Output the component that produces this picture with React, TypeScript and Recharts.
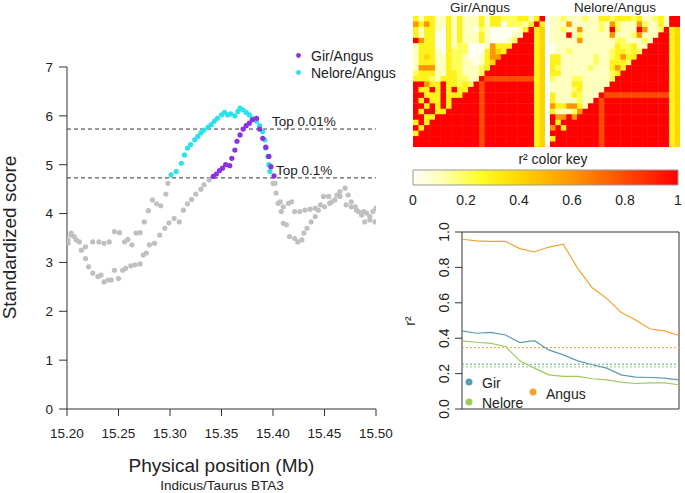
import {
  ScatterChart,
  Scatter,
  LineChart,
  Line,
  ComposedChart,
  XAxis,
  YAxis,
  ReferenceLine,
  ReferenceArea,
} from 'recharts';

const FONT = '"Liberation Sans", Arial, Helvetica, sans-serif';
const INK = '#222';
const GREY = '#c0c0c0';
const PURPLE = '#8f2fe2';
const CYAN = '#2ae2ea';
const ANGUS = '#f2a22e';
const GIR = '#5a9dad';
const NELORE = '#9dcb5e';

// selection scan, [position Mb, standardized score]
const girAngus: [number, number][] = [
  [15.201, 3.39], [15.204, 3.56], [15.209, 3.46], [15.214, 3.25], [15.218, 3.08], [15.221, 2.91],
  [15.225, 2.78], [15.23, 2.71], [15.233, 2.74], [15.236, 2.6], [15.24, 2.64], [15.243, 2.64],
  [15.246, 2.84], [15.25, 2.67], [15.254, 2.84], [15.257, 2.88], [15.262, 2.93], [15.266, 2.95],
  [15.271, 2.97], [15.274, 3.15], [15.277, 3.19], [15.28, 3.36], [15.285, 3.39], [15.29, 3.56],
  [15.295, 3.7], [15.299, 3.81], [15.304, 3.9], [15.309, 3.83], [15.313, 4.07], [15.317, 4.2],
  [15.321, 4.29], [15.325, 4.4], [15.33, 4.5], [15.333, 4.59], [15.338, 4.69],
  [15.342, 4.76], [15.345, 4.81], [15.348, 4.88], [15.351, 4.93], [15.354, 5.0], [15.358, 4.98],
  [15.36, 5.13], [15.363, 5.3], [15.365, 5.48], [15.368, 5.61], [15.371, 5.73], [15.374, 5.8],
  [15.377, 5.85], [15.38, 5.92], [15.384, 5.95], [15.387, 5.73], [15.39, 5.54], [15.393, 5.36],
  [15.396, 5.17], [15.398, 4.96], [15.401, 4.77],
  [15.402, 4.62], [15.405, 4.21], [15.408, 4.04], [15.41, 3.8], [15.413, 3.77], [15.416, 3.53],
  [15.421, 3.49], [15.424, 3.42], [15.428, 3.46], [15.43, 3.6], [15.433, 3.7], [15.437, 3.83],
  [15.441, 3.94], [15.444, 4.07], [15.45, 4.14], [15.455, 4.21], [15.46, 4.28], [15.465, 4.35],
  [15.471, 4.18], [15.476, 4.14], [15.481, 4.07], [15.486, 3.97], [15.489, 3.83], [15.494, 3.87],
  [15.499, 3.83],
];

const neloreAngus: [number, number][] = [
  [15.201, 3.46], [15.204, 3.6], [15.207, 3.53], [15.212, 3.42], [15.218, 3.32], [15.225, 3.42],
  [15.231, 3.42], [15.236, 3.39], [15.241, 3.42], [15.246, 3.63], [15.251, 3.61], [15.256, 3.42],
  [15.259, 3.47], [15.263, 3.36], [15.267, 3.6], [15.271, 3.61], [15.275, 3.83], [15.279, 4.06],
  [15.283, 4.28], [15.287, 4.2], [15.291, 4.16], [15.296, 4.4], [15.298, 4.62],
  [15.301, 4.79], [15.306, 4.86], [15.311, 5.03], [15.314, 5.2], [15.317, 5.34], [15.32, 5.41],
  [15.324, 5.51], [15.327, 5.58], [15.33, 5.65], [15.333, 5.71], [15.337, 5.77], [15.34, 5.82],
  [15.343, 5.89], [15.346, 5.95], [15.35, 6.02], [15.353, 6.07], [15.356, 6.02], [15.359, 6.04],
  [15.363, 6.0], [15.366, 6.09], [15.368, 6.16], [15.371, 6.12], [15.374, 6.07], [15.377, 6.02],
  [15.38, 5.95], [15.384, 5.89], [15.387, 5.8], [15.39, 5.68], [15.392, 5.51], [15.393, 5.34],
  [15.395, 5.17], [15.396, 5.0], [15.397, 4.86],
  [15.4, 4.62], [15.403, 4.42], [15.407, 4.24], [15.41, 4.14], [15.415, 4.21], [15.418, 4.24],
  [15.421, 4.04], [15.426, 4.04], [15.431, 4.07], [15.436, 4.09], [15.441, 4.11], [15.446, 4.18],
  [15.449, 4.35], [15.454, 4.35], [15.457, 4.24], [15.462, 4.38], [15.465, 4.45], [15.47, 4.52],
  [15.473, 4.38], [15.476, 4.24], [15.48, 4.14], [15.483, 4.04], [15.488, 4.04], [15.491, 4.01],
  [15.494, 3.94], [15.497, 4.04], [15.5, 4.11],
];

const top001 = 5.73;
const top01 = 4.73;
const posTicks = [15.2, 15.25, 15.3, 15.35, 15.4, 15.45, 15.5];
const scoreTicks = [0, 1, 2, 3, 4, 5, 6, 7];

// LD matrices, one char per cell: 0..8 -> r2 = d/10, 9 -> 1
const girLD = [
  '313311313111313322233139',
  '636311313111313302221393',
  '313310313110210000013934',
  '313300313111310000119934',
  '963300313111310001299934',
  '133300312200016333999934',
  '133310322200036439999934',
  '134311322100136699999934',
  '133311322110134999999934',
  '166611322111239999999934',
  '233311332111299999999934',
  '333213332211988888888834',
  '996339332329899999999934',
  '933939393399899999999934',
  '993339333999899999999934',
  '939339399999899999999934',
  '993939399999899999999934',
  '939933999999899999999934',
  '993399999999899999999934',
  '393999999999899999999934',
  '939999999999899999999934',
  '399999999999899999999934',
  '999999999999899999999934',
  '999999999999899999999934',
];

const neloreLD = [
  '112111211332333231123199',
  '111611111216211162113199',
  '112116111219211196112934',
  '111912111116111261119934',
  '111116111111221112199934',
  '011111111111322311999934',
  '011211111112332329999934',
  '331111112112363399999934',
  '331111112113332999999934',
  '321111121113639999999934',
  '331111111112399999999934',
  '211122111112999999999934',
  '111133111119999999999934',
  '111123111199999999999934',
  '311132111988888888888834',
  '311112119899999999999934',
  '633663199899999999999934',
  '311126999899999999999934',
  '966969999899999999999934',
  '939999999899999999999934',
  '693999999899999999999934',
  '999999999899999999999934',
  '399999999899999999999934',
  '999999999899999999999934',
];

const keyStops: [number, string][] = [
  [0, '#fffff2'],
  [0.1, '#ffffbe'],
  [0.25, '#ffff28'],
  [0.4, '#ffd700'],
  [0.6, '#ff9600'],
  [0.8, '#ff4b00'],
  [1, '#ff0000'],
];
const keyTicks = [0, 0.2, 0.4, 0.6, 0.8, 1];

// LD decay, r2 by distance bin
const distBin = [0, 1, 2, 3, 4, 5, 6, 7, 8, 9, 10, 11, 12, 13, 14, 15];
const angusR2 = [0.959, 0.95, 0.947, 0.947, 0.906, 0.887, 0.915, 0.931, 0.794, 0.685, 0.625, 0.546, 0.503, 0.452, 0.441, 0.415];
const girR2 = [0.441, 0.428, 0.433, 0.418, 0.375, 0.386, 0.334, 0.306, 0.272, 0.25, 0.231, 0.193, 0.18, 0.178, 0.174, 0.165];
const neloreR2 = [0.385, 0.377, 0.371, 0.353, 0.272, 0.231, 0.193, 0.184, 0.184, 0.171, 0.165, 0.152, 0.144, 0.148, 0.148, 0.137];
const angusBase = 0.347;
const girBase = 0.253;
const neloreBase = 0.238;
const r2Ticks = [0, 0.2, 0.4, 0.6, 0.8, 1];

const hex = (h: string) => [1, 3, 5].map((i) => parseInt(h.slice(i, i + 2), 16));

function heat(v: number) {
  for (let i = 1; i < keyStops.length; i++) {
    const [p1, c1] = keyStops[i];
    const [p0, c0] = keyStops[i - 1];
    if (v <= p1) {
      const t = (v - p0) / (p1 - p0);
      const a = hex(c0);
      const b = hex(c1);
      const m = a.map((x, k) => Math.round(x + (b[k] - x) * t));
      return `rgb(${m[0]},${m[1]},${m[2]})`;
    }
  }
  return keyStops[keyStops.length - 1][1];
}

const toPts = (arr: [number, number][]) => arr.map(([x, y]) => ({ x, y }));
const allScan = [...girAngus, ...neloreAngus];
const greyPts = toPts(allScan.filter((p) => p[1] <= top01));
const girHi = toPts(girAngus.filter((p) => p[1] > top01));
const neloreHi = toPts(neloreAngus.filter((p) => p[1] > top01));

const decay = distBin.map((i, k) => ({ i, angus: angusR2[k], gir: girR2[k], nelore: neloreR2[k] }));

function ldCells(rows: string[]) {
  const out: { x: number; y: number; fill: string }[] = [];
  rows.forEach((row, r) => {
    row.split('').forEach((ch, c) => {
      const d = Number(ch);
      out.push({ x: c + 0.5, y: r + 0.5, fill: heat(d === 9 ? 1 : d / 10) });
    });
  });
  return out;
}

const dot = (color: string) => (p: any) => <circle cx={p.cx} cy={p.cy} r={2.6} fill={color} />;

function Heatmap({ rows, width, height }: { rows: string[]; width: number; height: number }) {
  const n = rows.length;
  const cw = width / n;
  const ch = height / n;
  const shape = (p: any) => (
    <rect
      x={p.cx - cw / 2}
      y={p.cy - ch / 2}
      width={cw + 0.4}
      height={ch + 0.4}
      fill={p.payload?.fill ?? p.fill}
    />
  );
  return (
    <ScatterChart width={width} height={height} margin={{ top: 0, right: 0, bottom: 0, left: 0 }}>
      <XAxis type="number" dataKey="x" domain={[0, n]} hide height={0} />
      <YAxis type="number" dataKey="y" domain={[0, n]} reversed hide width={0} />
      <Scatter data={ldCells(rows)} shape={shape} isAnimationActive={false} />
    </ScatterChart>
  );
}

const RotTick = (p: any) => (
  <text
    x={p.x}
    y={p.y}
    transform={`rotate(-90 ${p.x} ${p.y})`}
    textAnchor="middle"
    fontSize={14}
    fill={INK}
    fontFamily={FONT}
  >
    {Number(p.payload.value).toFixed(1)}
  </text>
);

export default function App() {
  const tickStyle = { fill: INK, fontSize: 13.5, fontFamily: FONT };
  return (
    <div style={{ position: 'absolute', left: 0, top: 0, width: 685, height: 493, background: '#fff' }}>
      {/* selection scan */}
      <div style={{ position: 'absolute', left: 0, top: 0 }}>
        <ScatterChart width={400} height={493} margin={{ top: 67, right: 24, bottom: 0, left: 0 }}>
          <XAxis
            type="number"
            dataKey="x"
            domain={[15.2, 15.5]}
            ticks={posTicks}
            interval={0}
            tickFormatter={(v: number) => v.toFixed(2)}
            height={84}
            tickSize={7}
            tickMargin={12}
            stroke="#333"
            tick={tickStyle}
            allowDataOverflow
          />
          <YAxis
            type="number"
            dataKey="y"
            domain={[0, 7]}
            ticks={scoreTicks}
            interval={0}
            width={67}
            tickSize={8}
            tickMargin={6}
            stroke="#333"
            tick={tickStyle}
          />
          <ReferenceLine y={top001} stroke="#333" strokeDasharray="4 3" />
          <ReferenceLine y={top01} stroke="#333" strokeDasharray="4 3" />
          <Scatter data={greyPts} shape={dot(GREY)} isAnimationActive={false} />
          <Scatter data={neloreHi} shape={dot(CYAN)} isAnimationActive={false} />
          <Scatter data={girHi} shape={dot(PURPLE)} isAnimationActive={false} />
        </ScatterChart>
      </div>

      {/* LD heatmaps */}
      <div style={{ position: 'absolute', left: 413, top: 16 }}>
        <Heatmap rows={girLD} width={132} height={131} />
      </div>
      <div style={{ position: 'absolute', left: 550, top: 16 }}>
        <Heatmap rows={neloreLD} width={130} height={131} />
      </div>

      {/* colour key */}
      <div style={{ position: 'absolute', left: 400, top: 165 }}>
        <ComposedChart width={285} height={45} data={[{ v: 0 }, { v: 1 }]} margin={{ top: 5, right: 7, bottom: 0, left: 13 }}>
          <defs>
            <linearGradient id="keyGrad" x1="0" y1="0" x2="1" y2="0">
              {keyStops.map(([o, c]) => (
                <stop key={o} offset={`${o * 100}%`} stopColor={c} />
              ))}
            </linearGradient>
          </defs>
          <XAxis
            type="number"
            dataKey="v"
            domain={[0, 1]}
            ticks={keyTicks}
            interval={0}
            height={25}
            axisLine={false}
            tickLine={false}
            tickSize={0}
            tickMargin={10}
            tickFormatter={(v: number) => String(v)}
            tick={{ fill: INK, fontSize: 14, fontFamily: FONT }}
          />
          <YAxis domain={[0, 1]} hide width={0} />
          <ReferenceArea x1={0} x2={1} y1={0} y2={1} fill="url(#keyGrad)" fillOpacity={1} stroke="#999" />
          <Line dataKey="v" stroke="none" dot={false} isAnimationActive={false} />
        </ComposedChart>
      </div>

      {/* LD decay */}
      <div style={{ position: 'absolute', left: 400, top: 200 }}>
        <LineChart width={285} height={293} data={decay} margin={{ top: 32, right: 6, bottom: 84, left: 0 }}>
          <XAxis type="number" dataKey="i" domain={[0, 15]} hide height={0} />
          <YAxis
            domain={[0, 1]}
            ticks={r2Ticks}
            interval={0}
            width={62}
            tickSize={7}
            tickMargin={6}
            stroke="#333"
            axisLine={false}
            tick={RotTick}
          />
          <ReferenceArea x1={0} x2={15} y1={0} y2={1} fill="none" fillOpacity={0} stroke="#333" />
          <ReferenceLine y={angusBase} stroke={ANGUS} strokeDasharray="2 2" />
          <ReferenceLine y={girBase} stroke={GIR} strokeDasharray="2 2" />
          <ReferenceLine y={neloreBase} stroke={NELORE} strokeDasharray="2 2" />
          <Line type="linear" dataKey="angus" stroke={ANGUS} strokeWidth={1.2} dot={false} isAnimationActive={false} />
          <Line type="linear" dataKey="gir" stroke={GIR} strokeWidth={1.2} dot={false} isAnimationActive={false} />
          <Line type="linear" dataKey="nelore" stroke={NELORE} strokeWidth={1.2} dot={false} isAnimationActive={false} />
        </LineChart>
      </div>

      {/* titles, labels and legends */}
      <svg
        width={685}
        height={493}
        style={{ position: 'absolute', left: 0, top: 0, pointerEvents: 'none' }}
        fontFamily={FONT}
        fill={INK}
      >
        <text x={16} y={237.5} transform="rotate(-90 16 237.5)" textAnchor="middle" fontSize={19}>
          Standardized score
        </text>
        <text x={221.5} y={472} textAnchor="middle" fontSize={19}>
          Physical position (Mb)
        </text>
        <text x={222} y={490} textAnchor="middle" fontSize={13.5}>
          Indicus/Taurus BTA3
        </text>
        <circle cx={298.5} cy={55.5} r={2.4} fill={PURPLE} />
        <text x={311} y={61} fontSize={14}>Gir/Angus</text>
        <circle cx={298.5} cy={72.5} r={2.4} fill={CYAN} />
        <text x={311} y={78} fontSize={14}>Nelore/Angus</text>
        <text x={272} y={126} fontSize={13.5}>Top 0.01%</text>
        <text x={276} y={175} fontSize={13.5}>Top 0.1%</text>

        <text x={480} y={12} textAnchor="middle" fontSize={13.5}>Gir/Angus</text>
        <text x={615} y={12} textAnchor="middle" fontSize={13.5}>Nelore/Angus</text>
        <text x={553} y={164} textAnchor="middle" fontSize={14}>r² color key</text>

        <text x={415} y={321} transform="rotate(-90 415 321)" textAnchor="middle" fontSize={14}>r²</text>
        <circle cx={469} cy={382} r={3.5} fill={GIR} />
        <text x={482} y={388} fontSize={14}>Gir</text>
        <circle cx={469} cy={402} r={3.5} fill={NELORE} />
        <text x={482} y={408} fontSize={14}>Nelore</text>
        <circle cx={533} cy={392} r={3.5} fill={ANGUS} />
        <text x={546} y={399} fontSize={14}>Angus</text>
      </svg>
    </div>
  );
}
